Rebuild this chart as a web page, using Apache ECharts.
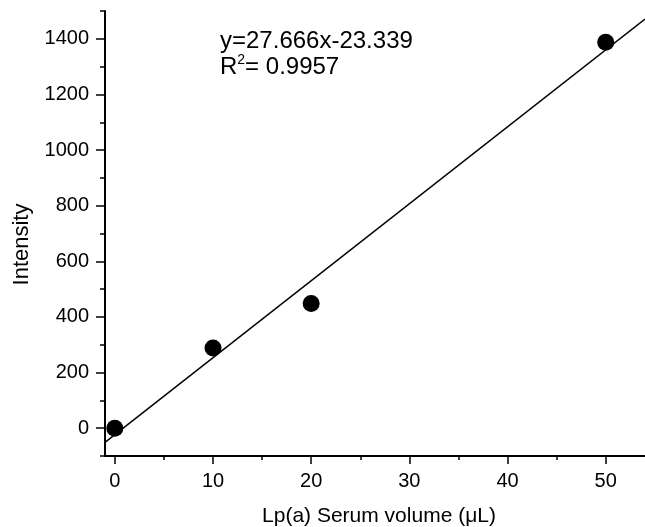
<!DOCTYPE html>
<html>
<head>
<meta charset="utf-8">
<script src="https://cdn.jsdelivr.net/npm/echarts@6/dist/echarts.min.js"></script>
<style>
html,body{margin:0;padding:0;background:#fff;}
#chart{width:645px;height:527px;}
</style>
</head>
<body>
<div id="chart"></div>
<script>
// Data
const serumVolume = [0, 10, 20, 50];
const intensity = [0, 288, 448, 1388];
// Fitted line endpoints (y = 27.666x - 23.339 across the x range)
const fitX = [-1, 54];
const fitY = [-51, 1471];
const equationText = 'y=27.666x-23.339';
const r2Value = '0.9957';
// Tick values
const xMajorTicks = [0, 10, 20, 30, 40, 50];
const xMinorTicks = [5, 15, 25, 35, 45];
const yMajorTicks = [0, 200, 400, 600, 800, 1000, 1200, 1400];
const yMinorTicks = [-100, 100, 300, 500, 700, 900, 1100, 1300, 1500];

const FONT = 'Liberation Sans, Arial, sans-serif';
const chart = echarts.init(document.getElementById('chart'), null, {renderer: 'canvas'});

const scatterData = serumVolume.map((x, i) => [x, intensity[i]]);
const fitData = fitX.map((x, i) => [x, fitY[i]]);
const plain = v => String(v);

const baseX = {type: 'value', min: -1, max: 54, splitLine: {show: false}};
const baseY = {type: 'value', min: -100, max: 1500, splitLine: {show: false}};

chart.setOption({
  backgroundColor: '#fff',
  animation: false,
  grid: {left: 105, right: 0, top: 11, bottom: 71, containLabel: false, outerBoundsMode: 'none'},
  xAxis: [
    Object.assign({}, baseX, {
      position: 'bottom',
      name: 'Lp(a) Serum volume (\u03BCL)',
      nameLocation: 'middle',
      nameGap: 50,
      nameTextStyle: {fontFamily: FONT, fontSize: 21, color: '#000', padding: [0, 0, 0, 8]},
      axisLine: {show: true, onZero: false, lineStyle: {color: '#000', width: 2}},
      axisTick: {show: true, inside: false, length: 8, customValues: xMajorTicks, lineStyle: {color: '#000', width: 1.5}},
      axisLabel: {show: true, customValues: xMajorTicks, formatter: plain, margin: 15, fontFamily: FONT, fontSize: 20, color: '#000'}
    }),
    Object.assign({}, baseX, {
      position: 'bottom',
      axisLine: {show: false, onZero: false},
      axisTick: {show: true, inside: false, length: 4, customValues: xMinorTicks, lineStyle: {color: '#000', width: 1.5}},
      axisLabel: {show: false}
    })
  ],
  yAxis: [
    Object.assign({}, baseY, {
      position: 'left',
      name: 'Intensity',
      nameLocation: 'middle',
      nameGap: 72,
      nameTextStyle: {fontFamily: FONT, fontSize: 22, color: '#000', padding: [0, 22, 0, 0]},
      axisLine: {show: true, onZero: false, lineStyle: {color: '#000', width: 2}},
      axisTick: {show: true, inside: false, length: 9, customValues: yMajorTicks, lineStyle: {color: '#000', width: 1.5}},
      axisLabel: {show: true, customValues: yMajorTicks, formatter: plain, margin: 16, fontFamily: FONT, fontSize: 20, color: '#000'}
    }),
    Object.assign({}, baseY, {
      position: 'left',
      axisLine: {show: false, onZero: false},
      axisTick: {show: true, inside: false, length: 5, customValues: yMinorTicks, lineStyle: {color: '#000', width: 1.5}},
      axisLabel: {show: false}
    })
  ],
  graphic: [
    {type: 'text', left: 220, top: 29, style: {text: equationText, font: '24px ' + FONT, fill: '#000'}},
    {type: 'text', left: 220, top: 53, style: {
      text: '{n|R}{s|2}{n|= ' + r2Value + '}',
      rich: {
        n: {fontFamily: FONT, fontSize: 24, color: '#000', verticalAlign: 'middle', lineHeight: 28},
        s: {fontFamily: FONT, fontSize: 14, color: '#000', verticalAlign: 'top', lineHeight: 14}
      }
    }}
  ],
  series: [
    {
      type: 'line',
      data: fitData,
      xAxisIndex: 0, yAxisIndex: 0,
      showSymbol: false,
      clip: true,
      lineStyle: {color: '#000', width: 1.5},
      z: 2
    },
    {
      type: 'scatter',
      data: scatterData,
      xAxisIndex: 0, yAxisIndex: 0,
      symbol: 'circle',
      symbolSize: 17,
      itemStyle: {color: '#000', opacity: 1},
      clip: false,
      z: 3
    }
  ]
});
</script>
</body>
</html>
